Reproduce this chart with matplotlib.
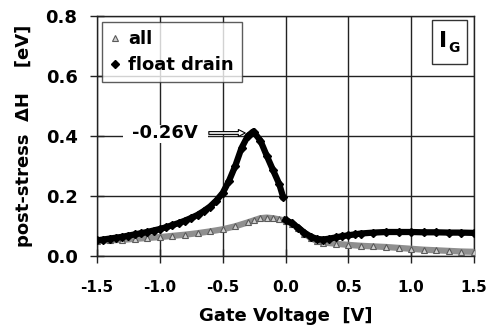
import matplotlib
matplotlib.use("Agg")
import matplotlib.pyplot as plt
from matplotlib.patches import Rectangle

# ---- data ----
x_all = [-1.50, -1.40, -1.30, -1.20, -1.10, -1.00, -0.90, -0.80, -0.70, -0.60,
         -0.50, -0.40, -0.30, -0.25, -0.20, -0.15, -0.10, -0.05, 0.00, 0.05,
         0.10, 0.15, 0.20, 0.25, 0.30, 0.40, 0.50, 0.60, 0.70, 0.80,
         0.90, 1.00, 1.10, 1.20, 1.30, 1.40, 1.50]
y_all = [0.050, 0.052, 0.054, 0.057, 0.060, 0.063, 0.067, 0.071, 0.076, 0.082,
         0.089, 0.099, 0.112, 0.119, 0.126, 0.128, 0.126, 0.122, 0.118, 0.108,
         0.093, 0.075, 0.060, 0.050, 0.045, 0.041, 0.037, 0.034, 0.032, 0.030,
         0.027, 0.024, 0.021, 0.019, 0.017, 0.015, 0.014]

x_fd = [-1.50, -1.45, -1.40, -1.35, -1.30, -1.25, -1.20, -1.15, -1.10, -1.05,
        -1.00, -0.95, -0.90, -0.85, -0.80, -0.75, -0.70, -0.65, -0.60, -0.55,
        -0.50, -0.45, -0.40, -0.35, -0.30, -0.26, -0.25, -0.20, -0.15, -0.10,
        -0.05, -0.02]
y_fd = [0.052, 0.055, 0.058, 0.061, 0.064, 0.068, 0.072, 0.076, 0.080, 0.085,
        0.090, 0.096, 0.103, 0.110, 0.118, 0.127, 0.137, 0.150, 0.165, 0.185,
        0.210, 0.250, 0.300, 0.360, 0.400, 0.414, 0.412, 0.385, 0.335, 0.287,
        0.240, 0.198]
x_fd2 = [0.00, 0.05, 0.10, 0.15, 0.20, 0.25, 0.30, 0.35, 0.40, 0.45,
         0.50, 0.55, 0.60, 0.70, 0.80, 0.90, 1.00, 1.10, 1.20, 1.30,
         1.40, 1.50]
y_fd2 = [0.120, 0.110, 0.095, 0.078, 0.065, 0.057, 0.055, 0.058, 0.062, 0.066,
         0.069, 0.072, 0.075, 0.078, 0.080, 0.080, 0.080, 0.079, 0.079, 0.078,
         0.078, 0.077]

xticks = [-1.5, -1.0, -0.5, 0.0, 0.5, 1.0, 1.5]
xtick_labels = ["-1.5", "-1.0", "-0.5", "0.0", "0.5", "1.0", "1.5"]
yticks = [0.0, 0.2, 0.4, 0.6, 0.8]
ytick_labels = ["0.0", "0.2", "0.4", "0.6", "0.8"]

plt.rcParams['font.family'] = ['DejaVu Sans']
plt.rcParams['font.weight'] = 'bold'

W, H = 487, 332
fig = plt.figure(figsize=(W / 100, H / 100), dpi=100)
ax = fig.add_axes([97 / W, (H - 256) / H, (474 - 97) / W, (256 - 16) / H])

ax.set_xlim(-1.5, 1.5)
ax.set_ylim(0.0, 0.8)
ax.set_xticks(xticks)
ax.set_xticklabels(xtick_labels, fontsize=11, fontweight='bold')
ax.set_yticks(yticks)
ax.set_yticklabels(ytick_labels, fontsize=13, fontweight='bold')
ax.tick_params(direction='inout', length=10, width=1.0, color='#222222')
ax.tick_params(axis='x', pad=12)
ax.tick_params(axis='y', pad=9)
ax.grid(True, color='#222222', linewidth=1.0)
ax.set_axisbelow(True)
for s in ax.spines.values():
    s.set_color('#222222')
    s.set_linewidth(1.0)

# white gap behind the annotation text
ax.add_patch(Rectangle((-1.29, 0.377), 0.67, 0.06, fc='white', ec='none', zorder=2))

# grey "all"
ax.plot(x_all, y_all, color='#8f8f8f', lw=4.5, zorder=3)
ax.plot(x_all, y_all, linestyle='none', marker='^', ms=5, mfc='#d0d0d0',
        mec='#5a5a5a', mew=0.8, zorder=4, label='all')
# black "float drain"
ax.plot(x_fd, y_fd, color='black', lw=4.5, zorder=5)
ax.plot(x_fd2, y_fd2, color='black', lw=4.5, zorder=5)
ax.plot(x_fd, y_fd, linestyle='none', marker='D', ms=4.5, color='black',
        zorder=6, label='float drain')
ax.plot(x_fd2, y_fd2, linestyle='none', marker='D', ms=4.5, color='black',
        zorder=6)

ax.set_xlabel("Gate Voltage  [V]", fontsize=13, fontweight='bold', labelpad=9)
ax.set_ylabel("post-stress  \u0394H    [eV]", fontsize=13, fontweight='bold', labelpad=9)

leg = ax.legend(loc='upper left', bbox_to_anchor=(0.013, 0.975), borderaxespad=0,
                frameon=True, fancybox=False, edgecolor='#333333',
                handlelength=0.6, handletextpad=0.4, borderpad=0.45,
                labelspacing=0.45, prop={'weight': 'bold', 'size': 13})
leg.get_frame().set_linewidth(1.0)
leg.set_zorder(10)
for h in leg.legend_handles:
    h.set_markersize(4)

# annotation -0.26V
ax.text(-0.96, 0.41, "-0.26V", fontsize=13, fontweight='bold', ha='center',
        va='center', zorder=8)
ax.annotate("", xy=(-0.32, 0.41), xytext=(-0.61, 0.41),
            arrowprops=dict(arrowstyle='simple,head_length=0.5,head_width=0.5,tail_width=0.2',
                            fc='white', ec='black', lw=0.8, shrinkA=0, shrinkB=0),
            zorder=8)

# I_G box
ax.add_patch(Rectangle((0.889, 0.80), 0.093, 0.183, transform=ax.transAxes,
                       fill=True, fc='white', ec='#333333', lw=1.0, zorder=9))
ax.text(0.917, 0.895, "I", transform=ax.transAxes, fontsize=16,
        fontweight='bold', ha='center', va='center', zorder=10)
ax.text(0.948, 0.865, "G", transform=ax.transAxes, fontsize=10,
        fontweight='bold', ha='center', va='center', zorder=10)

fig.savefig("out.png", dpi=100)
